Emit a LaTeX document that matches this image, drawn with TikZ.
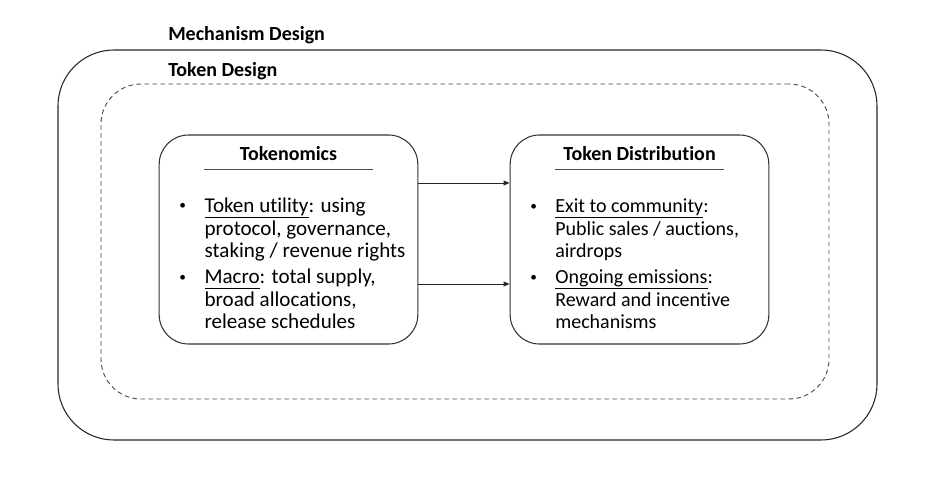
\documentclass[tikz,border=0pt]{standalone}
\usepackage{fontspec}
\setmainfont{Carlito}[Ligatures=NoCommon]
\usetikzlibrary{positioning,arrows.meta}

% small bullet in a box of given width
\newcommand{\bul}[1]{\makebox[#1][l]{\raisebox{0.25ex}{\fontsize{10}{10}\selectfont\textbullet}}}
% underline at a fixed distance below the baseline
\newcommand{\ul}[1]{\underline{\raisebox{0pt}[\height][2.2pt]{#1}}}

\begin{document}
\begin{tikzpicture}[
  x=0.75pt, y=-0.75pt,
  every node/.style={font=\fontsize{15}{16.9}\selectfont},
  frame/.style={draw=black!85, line width=0.8pt, rounded corners=42pt},
  dashframe/.style={draw=black!70, line width=0.7pt, dash pattern=on 3.5pt off 2.5pt, rounded corners=30pt},
  card/.style={draw=black!80, line width=0.8pt, rounded corners=22pt, minimum width=194pt, minimum height=156.75pt},
  tag/.style={font=\fontsize{15}{18}\selectfont\bfseries, inner sep=0pt, anchor=base west},
  head/.style={font=\fontsize{15}{18}\selectfont\bfseries, minimum width=126pt, inner xsep=0pt, inner ysep=6.2pt, text depth=0pt, anchor=base},
  items/.style={anchor=base west, inner sep=0pt, align=flush left, text width=190pt},
  rule/.style={draw=black!70, line width=0.6pt},
  flow/.style={-{Triangle[length=4.5pt,width=3.6pt]}, line width=0.75pt, black!85},
]
  \useasboundingbox (0,0) rectangle (936,478);

  % nested design frames
  \node[frame, minimum width=614.25pt, minimum height=292.5pt] (mech) at (467.5,245) {};
  \node[dashframe, minimum width=546pt, minimum height=236.25pt] (tokdes) at (465,241.5) {};
  \node[tag] (mechlbl) at (168,40.7) {Mechanism Design};
  \node[tag] (toklbl) at (168,76.7) {Token Design};

  % the two cards
  \node[card] (tok) at (288.5,239.5) {};
  \node[card] (dist) at (639.5,239.5) {};

  \node[head] (tokhead) at (288.5,160.7) {Tokenomics};
  \draw[rule] (tokhead.south west) -- (tokhead.south east);
  \node[head] (disthead) at (639.5,160.7) {Token Distribution};
  \draw[rule] (disthead.south west) -- (disthead.south east);

  \node[items, font=\fontsize{15.8}{16.9}\selectfont] (tokitems) at (179,212.5) {%
    \bul{19pt}\ul{Token utility}: using\\
    \hspace*{19pt}protocol, governance,\\
    \hspace*{19pt}staking / revenue rights\\[2.6pt]
    \bul{19pt}\ul{Macro}: total supply,\\
    \hspace*{19pt}broad allocations,\\
    \hspace*{19pt}release schedules};
  \node[items] (distitems) at (530,212.5) {%
    \bul{18.8pt}\ul{Exit to community}:\\
    \hspace*{18.8pt}Public sales / auctions,\\
    \hspace*{18.8pt}airdrops\\[2.6pt]
    \bul{18.8pt}\ul{Ongoing emissions}:\\
    \hspace*{18.8pt}Reward and incentive\\
    \hspace*{18.8pt}mechanisms};

  % links between the cards
  \draw[flow] (tok.east |- 0,183) -- (dist.west |- 0,183);
  \draw[flow] (tok.east |- 0,284) -- (dist.west |- 0,284);
\end{tikzpicture}
\end{document}
